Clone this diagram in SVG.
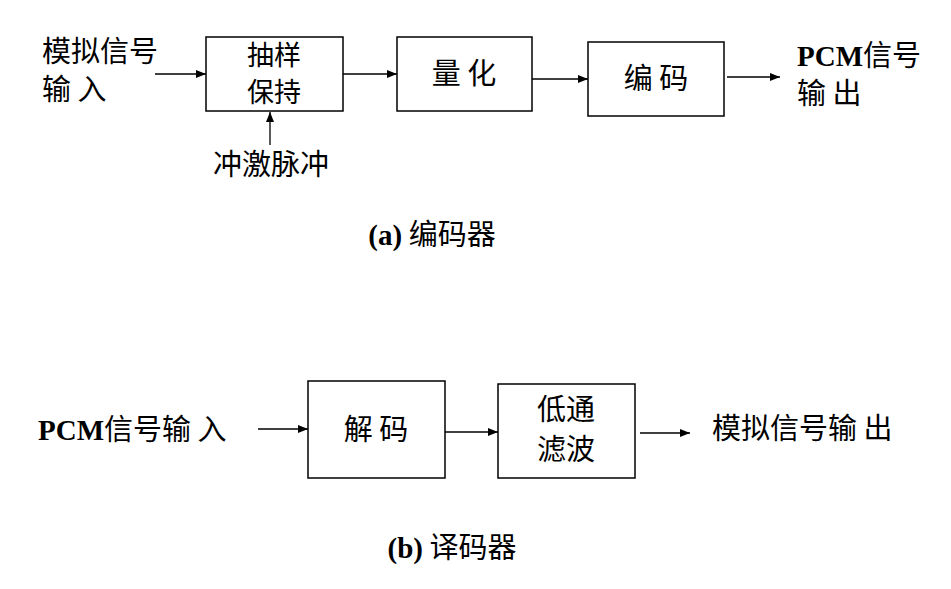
<svg xmlns="http://www.w3.org/2000/svg" width="951" height="589" viewBox="0 0 951 589">
<defs>
<marker id="ah" markerWidth="10" markerHeight="8" refX="10" refY="4" orient="auto" markerUnits="userSpaceOnUse"><path d="M0,0 L10,4 L0,8 Z" fill="#000"/></marker>
<style>
.box{fill:#fff;stroke:#000;stroke-width:1.5}
.ln{stroke:#000;stroke-width:1.3;fill:none;marker-end:url(#ah)}
text{font-family:"Noto Sans CJK SC",sans-serif;font-size:29px;fill:#000}
.b{font-family:"Liberation Serif","Noto Sans CJK SC",serif;font-weight:bold}
.c{text-anchor:middle}
.s{font-size:27px}
</style>
</defs>
<rect width="951" height="589" fill="#fff"/>
<g id="connectors">
<line class="ln" x1="155" y1="74" x2="206" y2="74"/>
<line class="ln" x1="343" y1="74" x2="397" y2="74"/>
<line class="ln" x1="532" y1="79" x2="588" y2="79"/>
<line class="ln" x1="727" y1="77" x2="780" y2="77"/>
<line class="ln" x1="270" y1="145" x2="270" y2="112"/>
<line class="ln" x1="258" y1="429" x2="308" y2="429"/>
<line class="ln" x1="445" y1="432" x2="498" y2="432"/>
<line class="ln" x1="640" y1="433" x2="690" y2="433"/>
</g>
<g id="in-a"><text x="42" y="62">模拟信号</text><text x="42" y="100">输 入</text></g>
<g id="sh"><rect class="box" x="206" y="37" width="137" height="74"/><text class="c s" x="274" y="65">抽样</text><text class="c s" x="274" y="102">保持</text></g>
<g id="quant"><rect class="box" x="397" y="37" width="135" height="74"/><text class="c" x="464" y="84">量 化</text></g>
<g id="enc"><rect class="box" x="588" y="42" width="136" height="74"/><text class="c" x="656" y="89">编 码</text></g>
<g id="out-a"><text x="797" y="66"><tspan class="b">PCM</tspan>信号</text><text x="797" y="104">输 出</text></g>
<g id="pulse"><text x="213" y="175">冲激脉冲</text></g>
<g id="cap-a"><text class="c" x="432" y="245"><tspan class="b">(a)</tspan> 编码器</text></g>
<g id="in-b"><text x="38" y="440"><tspan class="b">PCM</tspan>信号输 入</text></g>
<g id="dec"><rect class="box" x="308" y="381" width="137" height="97"/><text class="c" x="376" y="440">解 码</text></g>
<g id="lpf"><rect class="box" x="498" y="384" width="137" height="94"/><text class="c" x="566" y="420">低通</text><text class="c" x="566" y="460">滤波</text></g>
<g id="out-b"><text x="712" y="439">模拟信号输 出</text></g>
<g id="cap-b"><text class="c" x="452" y="558"><tspan class="b">(b)</tspan> 译码器</text></g>
</svg>
